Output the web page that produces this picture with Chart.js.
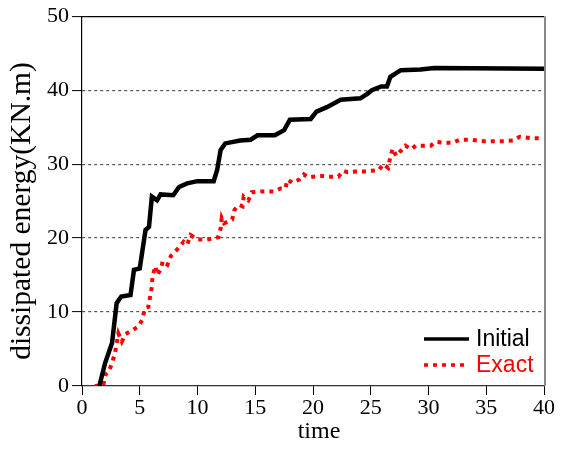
<!DOCTYPE html>
<html>
<head>
<meta charset="utf-8">
<script src="https://cdn.jsdelivr.net/npm/chart.js@4/dist/chart.umd.min.js"></script>
<style>
  html, body { margin: 0; padding: 0; background: #fff; }
  #wrap { width: 566px; height: 450px; }
</style>
</head>
<body>
<div id="wrap"><canvas id="c" width="566" height="450"></canvas></div>
<script>
// Dissipated energy histories
const initialTime = [1.5, 2.0, 2.6, 3.0, 3.4, 4.2, 4.5, 5.0, 5.5, 5.8, 6.05, 6.5, 6.8, 7.9, 8.4, 9.1, 10.0, 11.4, 11.7, 12.0, 12.4, 13.7, 14.6, 15.2, 16.7, 17.5, 18.0, 19.8, 20.3, 21.2, 22.4, 24.1, 24.7, 25.1, 25.9, 26.4, 26.7, 27.6, 29.3, 30.5, 40];
const initialEnergy = [0, 3.1, 5.8, 11.2, 12.1, 12.3, 15.7, 15.9, 21.1, 21.5, 25.6, 25.1, 25.9, 25.8, 26.9, 27.4, 27.7, 27.7, 29.2, 31.9, 32.8, 33.2, 33.3, 33.9, 33.9, 34.6, 36.0, 36.1, 37.1, 37.7, 38.7, 38.9, 39.5, 40.0, 40.5, 40.5, 41.8, 42.7, 42.8, 43.0, 42.9];

const exactTime = [1.1, 1.85, 2.0, 2.3, 2.6, 2.85, 3.15, 3.45, 3.75, 4.45, 4.9, 5.2, 5.45, 5.75, 5.9, 6.05, 6.1, 6.35, 6.5, 6.8, 7.0, 7.4, 7.7, 8.2, 8.8, 9.1, 9.4, 10.0, 10.8, 11.8, 12.0, 12.1, 12.3, 13.0, 13.2, 13.6, 13.9, 14.0, 14.4, 14.7, 15.6, 16.6, 17.2, 17.6, 17.8, 18.2, 18.8, 19.2, 19.6, 20.0, 20.8, 21.5, 22.2, 22.6, 23.0, 23.7, 24.4, 25.0, 25.7, 26.1, 26.5, 26.7, 26.9, 27.2, 27.6, 28.0, 28.5, 28.9, 29.6, 30.2, 30.6, 31.4, 32.1, 32.7, 33.7, 34.2, 34.8, 36.0, 36.6, 37.3, 37.9, 38.4, 39.0, 39.7];
const exactEnergy = [0, 0.1, 1.5, 1.9, 3.1, 4.4, 7.1, 6.0, 7.0, 7.6, 8.1, 8.9, 10.5, 10.7, 12.1, 13.4, 14.8, 16.2, 15.0, 15.7, 16.9, 16.4, 17.6, 18.4, 19.5, 19.1, 20.4, 19.8, 19.8, 20.1, 21.3, 22.7, 22.0, 22.5, 23.8, 24.5, 24.3, 25.6, 25.1, 26.2, 26.3, 26.3, 26.7, 26.7, 27.9, 27.5, 27.9, 28.6, 28.2, 28.3, 28.4, 28.3, 28.3, 29.1, 28.9, 29.0, 29.0, 29.1, 29.2, 30.0, 29.5, 31.0, 32.1, 31.1, 31.8, 32.5, 32.0, 32.5, 32.5, 32.5, 33.0, 32.9, 32.9, 33.3, 33.3, 33.2, 33.1, 33.1, 33.1, 33.2, 33.7, 33.6, 33.5, 33.5];

const xTicks = [0, 5, 10, 15, 20, 25, 30, 35, 40];
const yTicks = [0, 10, 20, 30, 40, 50];
const xTitle = 'time';
const yTitle = 'dissipated energy(KN.m)';

const toPoints = (xs, ys) => xs.map((x, i) => ({ x, y: ys[i] }));
const serif = '"Liberation Serif", "Times New Roman", serif';

// Frame lines on top and right of the plot area, plus both axis titles
const framePlugin = {
  id: 'frame',
  afterDraw(chart) {
    const { ctx, chartArea: a } = chart;
    ctx.save();
    ctx.strokeStyle = '#000';
    ctx.lineWidth = 1.2;
    ctx.beginPath();
    ctx.moveTo(a.left, a.top + 0.5);
    ctx.lineTo(a.right, a.top + 0.5);
    ctx.stroke();
    ctx.strokeStyle = '#888';
    ctx.lineWidth = 2;
    ctx.beginPath();
    ctx.moveTo(a.right + 1, a.top);
    ctx.lineTo(a.right + 1, a.bottom);
    ctx.stroke();

    ctx.fillStyle = '#000';
    ctx.textAlign = 'center';
    ctx.textBaseline = 'middle';
    ctx.font = '24px ' + serif;
    ctx.fillText(xTitle, 319, 432);

    ctx.translate(22, 211);
    ctx.rotate(-Math.PI / 2);
    ctx.font = '29.5px ' + serif;
    ctx.fillText(yTitle, 0, 0);
    ctx.restore();
  }
};

// Legend drawn inside the lower right of the plot area
const insideLegend = {
  id: 'insideLegend',
  afterDraw(chart) {
    const { ctx, chartArea: a } = chart;
    ctx.save();
    ctx.font = '23px "Liberation Sans", Arial, sans-serif';
    ctx.textBaseline = 'middle';
    ctx.textAlign = 'left';
    chart.data.datasets.forEach((ds, i) => {
      const y = a.bottom - 47 + i * 26;
      const x0 = a.right - 120;
      ctx.strokeStyle = ds.borderColor;
      ctx.lineWidth = 3.5;
      ctx.setLineDash(ds.borderDash || []);
      ctx.beginPath();
      ctx.moveTo(x0, y);
      ctx.lineTo(x0 + 45, y);
      ctx.stroke();
      ctx.setLineDash([]);
      ctx.fillStyle = ds.borderColor;
      ctx.fillText(ds.label, x0 + 52, y + 1);
    });
    ctx.restore();
  }
};

new Chart(document.getElementById('c'), {
  type: 'line',
  data: {
    datasets: [
      {
        label: 'Initial',
        data: toPoints(initialTime, initialEnergy),
        borderColor: '#000',
        borderWidth: 4.5,
        pointRadius: 0,
        tension: 0,
        fill: false
      },
      {
        label: 'Exact',
        data: toPoints(exactTime, exactEnergy),
        borderColor: '#ff0000',
        borderWidth: 4,
        borderDash: [4, 5],
        pointRadius: 0,
        tension: 0,
        fill: false
      }
    ]
  },
  options: {
    responsive: false,
    animation: false,
    layout: { padding: { top: 16, right: 22, left: 0, bottom: 0 } },
    plugins: { legend: { display: false }, tooltip: { enabled: false } },
    scales: {
      x: {
        type: 'linear',
        min: 0,
        max: 40,
        afterFit(s) { s.height = 64; },
        afterBuildTicks(s) { s.ticks = xTicks.map(v => ({ value: v })); },
        ticks: { color: '#000', font: { family: serif, size: 22 }, padding: 0, maxRotation: 0 },
        grid: { drawOnChartArea: false, drawTicks: true, tickLength: 9, tickColor: '#000', tickWidth: 1 },
        border: { display: true, color: '#333', width: 1.2, dash: [2, 1] },
        title: { display: false }
      },
      y: {
        type: 'linear',
        min: 0,
        max: 50,
        afterFit(s) { s.width = 82; },
        afterBuildTicks(s) { s.ticks = yTicks.map(v => ({ value: v })); },
        ticks: { color: '#000', font: { family: serif, size: 22 }, padding: 3 },
        grid: {
          drawTicks: true,
          tickLength: 10,
          tickColor: '#000',
          tickWidth: 1,
          lineWidth: 1.2,
          color: ctx => (ctx.tick && (ctx.tick.value === 0 || ctx.tick.value === 50)) ? 'rgba(0,0,0,0)' : '#555',
          tickBorderDash: [],
        },
        border: { display: true, color: '#000', width: 1.2, dash: [3, 3] },
        title: { display: false }
      }
    }
  },
  plugins: [framePlugin, insideLegend]
});
</script>
</body>
</html>
